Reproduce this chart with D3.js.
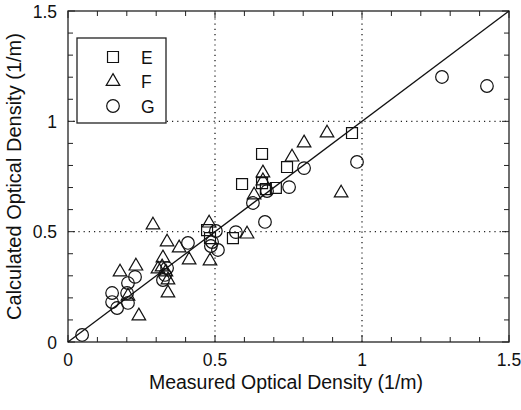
<!DOCTYPE html>
<html>
<head>
<meta charset="utf-8">
<script src="https://cdn.jsdelivr.net/npm/d3@7"></script>
<style>
  body { margin: 0; background: #fff; }
  text { font-family: "Liberation Sans", Arial, Helvetica, sans-serif; fill: #111; }
</style>
</head>
<body>
<svg id="chart" width="521" height="410"></svg>
<script>
// measured vs calculated optical density
var seriesE = [
    [0.966, 0.947], [0.660, 0.852], [0.745, 0.793], [0.660, 0.720],
    [0.673, 0.693], [0.707, 0.698], [0.592, 0.716], [0.561, 0.471],
    [0.473, 0.507], [0.483, 0.471]
];
var seriesF = [
    [0.177, 0.317], [0.231, 0.344], [0.241, 0.118], [0.204, 0.208],
    [0.289, 0.530], [0.337, 0.453], [0.378, 0.426], [0.412, 0.372],
    [0.483, 0.367], [0.323, 0.381], [0.320, 0.340], [0.333, 0.317],
    [0.306, 0.331], [0.340, 0.281], [0.340, 0.222], [0.480, 0.539],
    [0.609, 0.489], [0.633, 0.666], [0.663, 0.766], [0.663, 0.730],
    [0.762, 0.838], [0.803, 0.902], [0.881, 0.947], [0.929, 0.675]
];
var seriesG = [
    [0.048, 0.032], [0.150, 0.222], [0.150, 0.181], [0.167, 0.154],
    [0.201, 0.222], [0.204, 0.177], [0.204, 0.267], [0.228, 0.295],
    [0.330, 0.304], [0.337, 0.335], [0.323, 0.281], [0.408, 0.449],
    [0.503, 0.503], [0.490, 0.453], [0.486, 0.435], [0.510, 0.417],
    [0.571, 0.498], [0.670, 0.544], [0.629, 0.630], [0.677, 0.684],
    [0.752, 0.702], [0.803, 0.788], [0.983, 0.816], [1.272, 1.201],
    [1.425, 1.160]
];
var legendNames = ["E", "F", "G"];
var majorTicks = [0, 0.5, 1, 1.5];
var gridTicks = [0.5, 1];

var svg = d3.select("#chart");
var x = d3.scaleLinear().domain([0, 1.5]).range([68, 509]);
var y = d3.scaleLinear().domain([0, 1.5]).range([342, 11]);
var minorTicks = d3.range(0, 1.501, 0.1);

// dotted grid at 0.5 and 1
svg.selectAll(".vgrid").data(gridTicks).enter().append("line")
    .attr("x1", function(d){ return x(d); }).attr("x2", function(d){ return x(d); })
    .attr("y1", y(0)).attr("y2", y(1.5))
    .attr("stroke", "#222").attr("stroke-width", 1.3).attr("stroke-dasharray", "1.2,4");
svg.selectAll(".hgrid").data(gridTicks).enter().append("line")
    .attr("y1", function(d){ return y(d); }).attr("y2", function(d){ return y(d); })
    .attr("x1", x(0)).attr("x2", x(1.5))
    .attr("stroke", "#222").attr("stroke-width", 1.3).attr("stroke-dasharray", "1.2,4");

// inward ticks on all four sides
function tickLen(d){ return Math.abs(d*2 - Math.round(d*2)) < 1e-6 ? 7 : 5; }
svg.selectAll(".tb").data(minorTicks).enter().append("line")
    .attr("x1", function(d){ return x(d); }).attr("x2", function(d){ return x(d); })
    .attr("y1", y(0)).attr("y2", function(d){ return y(0) - tickLen(d); })
    .attr("stroke", "#222");
svg.selectAll(".tt").data(minorTicks).enter().append("line")
    .attr("x1", function(d){ return x(d); }).attr("x2", function(d){ return x(d); })
    .attr("y1", y(1.5)).attr("y2", function(d){ return y(1.5) + tickLen(d); })
    .attr("stroke", "#222");
svg.selectAll(".tl").data(minorTicks).enter().append("line")
    .attr("y1", function(d){ return y(d); }).attr("y2", function(d){ return y(d); })
    .attr("x1", x(0)).attr("x2", function(d){ return x(0) + tickLen(d); })
    .attr("stroke", "#222");
svg.selectAll(".tr").data(minorTicks).enter().append("line")
    .attr("y1", function(d){ return y(d); }).attr("y2", function(d){ return y(d); })
    .attr("x1", x(1.5)).attr("x2", function(d){ return x(1.5) - tickLen(d); })
    .attr("stroke", "#222");

// frame
svg.append("rect")
    .attr("x", x(0)).attr("y", y(1.5))
    .attr("width", x(1.5) - x(0)).attr("height", y(0) - y(1.5))
    .attr("fill", "none").attr("stroke", "#222").attr("stroke-width", 1.3);

// tick labels
var fmt = function(d){ return String(d); };
svg.selectAll(".xl").data(majorTicks).enter().append("text")
    .attr("x", function(d){ return x(d); }).attr("y", 366)
    .attr("text-anchor", "middle").attr("font-size", 17.5)
    .text(fmt);
svg.selectAll(".yl").data(majorTicks).enter().append("text")
    .attr("x", 57).attr("y", function(d){ return y(d) + 6.5; })
    .attr("text-anchor", "end").attr("font-size", 17.5)
    .text(fmt);

// axis titles
svg.append("text").attr("x", 286).attr("y", 389)
    .attr("text-anchor", "middle").attr("font-size", 19.5)
    .text("Measured Optical Density (1/m)");
svg.append("text")
    .attr("transform", "translate(21," + ((y(0) + y(1.5)) / 2) + ") rotate(-90)")
    .attr("text-anchor", "middle").attr("font-size", 20)
    .text("Calculated Optical Density (1/m)");

// 1:1 line
svg.append("line")
    .attr("x1", x(0)).attr("y1", y(0)).attr("x2", x(1.5)).attr("y2", y(1.5))
    .attr("stroke", "#111").attr("stroke-width", 1.3);

// markers
var symSquare = d3.symbol().type(d3.symbolSquare).size(120);
var symTriangle = d3.symbol().type(d3.symbolTriangle).size(80);
var symCircle = d3.symbol().type(d3.symbolCircle).size(125);
var symbols = [symSquare, symTriangle, symCircle];

function drawSeries(data, sym, cls){
    svg.selectAll("." + cls).data(data).enter().append("path")
        .attr("class", cls)
        .attr("d", sym())
        .attr("transform", function(d){ return "translate(" + x(d[0]) + "," + y(d[1]) + ")"; })
        .attr("fill", "none").attr("stroke", "#111").attr("stroke-width", 1.2);
}
drawSeries(seriesE, symSquare, "ptE");
drawSeries(seriesF, symTriangle, "ptF");
drawSeries(seriesG, symCircle, "ptG");

// legend
var legend = svg.append("g");
legend.append("rect")
    .attr("x", 77).attr("y", 38).attr("width", 89).attr("height", 85)
    .attr("fill", "#fff").attr("stroke", "#222").attr("stroke-width", 1.3);
legendNames.forEach(function(name, i){
    var ly = 57 + i * 24.5;
    legend.append("path").attr("d", symbols[i]())
        .attr("transform", "translate(113," + ly + ")")
        .attr("fill", "none").attr("stroke", "#111").attr("stroke-width", 1.2);
    legend.append("text").attr("x", 141).attr("y", ly + 6.5)
        .attr("font-size", 17.5).text(name);
});
</script>
</body>
</html>
